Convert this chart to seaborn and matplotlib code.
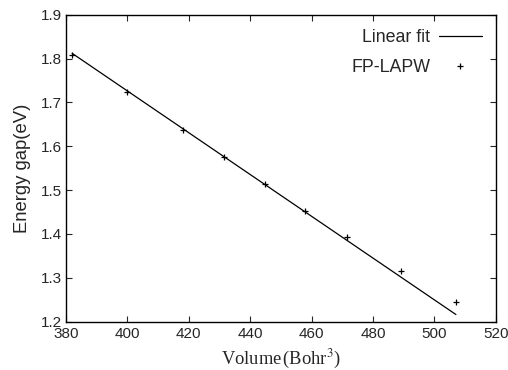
import matplotlib
matplotlib.use("Agg")
import matplotlib.pyplot as plt
import seaborn as sns
import pandas as pd

# FP-LAPW data points
volume = [382.0, 400.0, 418.2, 431.3, 444.8, 458.0, 471.4, 489.1, 507.0]
gap = [1.808, 1.723, 1.638, 1.575, 1.513, 1.452, 1.393, 1.316, 1.244]

# Linear fit endpoints
fit_volume = [382.0, 507.0]
fit_gap = [1.812, 1.216]

x_ticks = [380, 400, 420, 440, 460, 480, 500, 520]
y_ticks = [1.2, 1.3, 1.4, 1.5, 1.6, 1.7, 1.8, 1.9]

sns.set_style("ticks")
plt.rcParams["font.family"] = ["Liberation Sans", "DejaVu Sans"]
plt.rcParams["mathtext.fontset"] = "stix"

fig = plt.figure(figsize=(5.08, 3.70), dpi=100)
ax = fig.add_axes([0.130, 0.131, 0.846, 0.829])

df_pts = pd.DataFrame({"Volume": volume, "Gap": gap})
df_fit = pd.DataFrame({"Volume": fit_volume, "Gap": fit_gap})

sns.lineplot(data=df_fit, x="Volume", y="Gap", ax=ax, color="black",
             linewidth=0.9, label="Linear fit")
ax.plot(df_pts["Volume"], df_pts["Gap"], linestyle="none", marker="+",
        markersize=4.5, markeredgewidth=0.9, color="black", label="FP-LAPW")

ax.set_xlim(380, 520)
ax.set_ylim(1.2, 1.9)
ax.set_xticks(x_ticks)
ax.set_yticks(y_ticks)
ax.set_xticklabels([str(v) for v in x_ticks], fontsize=11)
ax.set_yticklabels([f"{v:.1f}" for v in y_ticks], fontsize=11)
ax.tick_params(axis="x", direction="in", top=True, length=4, width=0.8, pad=4)
ax.tick_params(axis="y", direction="in", right=True, length=4, width=0.8, pad=3)
for s in ax.spines.values():
    s.set_linewidth(1.0)
    s.set_color("black")

ax.set_xlabel(r"Volume$\,$(Bohr$^3$)", fontsize=13.3,
              family=["Liberation Serif", "DejaVu Serif"], labelpad=5)
ax.set_ylabel("Energy gap(eV)", fontsize=13.3, labelpad=7)

leg = ax.legend(loc="upper right", frameon=False, markerfirst=False, fontsize=12.8,
                handlelength=2.4, handletextpad=0.5, labelspacing=0.75,
                borderaxespad=0.3, borderpad=0.5)

fig.savefig("out.png", dpi=100)
